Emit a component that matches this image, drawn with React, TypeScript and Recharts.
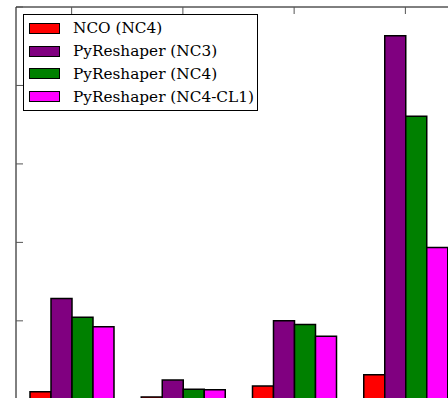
import { BarChart, Bar, XAxis, YAxis } from 'recharts';

const categories = ['Dataset A', 'Dataset B', 'Dataset C', 'Dataset D'];
const ncoNc4 = [0.097, 0.03, 0.169, 0.313];
const pyNc3 = [1.285, 0.245, 1.0, 4.635];
const pyNc4 = [1.047, 0.127, 0.954, 3.608];
const pyNc4Cl1 = [0.924, 0.122, 0.805, 1.934];
const yTicks = [0, 1, 2, 3, 4, 5];

const series = [
  { key: 'ncoNc4', name: 'NCO (NC4)', color: '#ff0000', values: ncoNc4 },
  { key: 'pyNc3', name: 'PyReshaper (NC3)', color: '#800080', values: pyNc3 },
  { key: 'pyNc4', name: 'PyReshaper (NC4)', color: '#008000', values: pyNc4 },
  { key: 'pyNc4Cl1', name: 'PyReshaper (NC4-CL1)', color: '#ff00ff', values: pyNc4Cl1 },
];

const data = categories.map((name, i) => {
  const row: Record<string, string | number> = { name };
  series.forEach((s) => {
    row[s.key] = s.values[i];
  });
  return row;
});

// tick marks only, the labels are outside the visible crop
const noLabel = () => <g />;

export default function App() {
  return (
    <div
      style={{
        position: 'fixed',
        top: 0,
        left: 0,
        width: 448,
        height: 398,
        overflow: 'hidden',
        background: '#fff',
      }}
    >
      <BarChart
        width={480}
        height={420}
        data={data}
        margin={{ top: 7, right: 19, left: 16, bottom: 20.7 }}
        barGap={0}
        barSize={21}
      >
        <XAxis
          dataKey="name"
          orientation="top"
          mirror
          tick={noLabel}
          tickSize={7}
          tickLine={{ stroke: '#555', strokeWidth: 1 }}
          axisLine={{ stroke: '#000', strokeWidth: 1 }}
        />
        <YAxis
          mirror
          domain={[0, 5]}
          ticks={yTicks}
          tick={noLabel}
          tickSize={7}
          tickLine={{ stroke: '#555', strokeWidth: 1 }}
          axisLine={{ stroke: '#000', strokeWidth: 1 }}
        />
        {series.map((s) => (
          <Bar
            key={s.key}
            dataKey={s.key}
            name={s.name}
            fill={s.color}
            stroke="#000"
            strokeWidth={1.5}
            isAnimationActive={false}
          />
        ))}
      </BarChart>
      <div
        style={{
          position: 'absolute',
          left: 23,
          top: 14,
          width: 235,
          height: 97,
          boxSizing: 'border-box',
          border: '1px solid #000',
          background: '#fff',
          paddingTop: 2,
          fontFamily: '"DejaVu Serif", serif',
          fontSize: 15.3,
          color: '#000',
        }}
      >
        {series.map((s) => (
          <div
            key={s.key}
            style={{ height: 22.8, display: 'flex', alignItems: 'center', whiteSpace: 'nowrap' }}
          >
            <span
              style={{
                display: 'inline-block',
                marginLeft: 5,
                width: 31,
                height: 11,
                boxSizing: 'border-box',
                background: s.color,
                border: '1.5px solid #000',
              }}
            />
            <span style={{ marginLeft: 13 }}>{s.name}</span>
          </div>
        ))}
      </div>
    </div>
  );
}
